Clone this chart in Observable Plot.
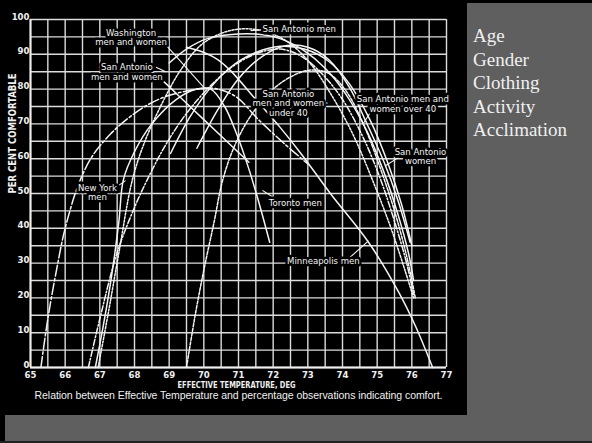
<!DOCTYPE html>
<html><head><meta charset="utf-8">
<script src="https://cdn.jsdelivr.net/npm/d3@7"></script>
<script src="https://cdn.jsdelivr.net/npm/@observablehq/plot@0.6"></script>
<style>
html,body{margin:0;padding:0}
body{background:#5f5f5f;width:592px;height:443px;overflow:hidden;position:relative}
#panel{position:absolute;left:0;top:0;width:467px;height:415px;background:#000}
#topband{position:absolute;left:0;top:0;width:592px;height:3px;background:#000}
#leftband{position:absolute;left:0;top:0;width:5px;height:443px;background:#000}
#bottomband{position:absolute;left:0;top:441px;width:592px;height:2px;background:#222}
#chart{position:absolute;left:0;top:0}
#side{position:absolute;left:473px;top:24px;color:#f0f0f0;font-family:"Liberation Serif","DejaVu Serif",serif;font-size:19px;line-height:23.5px}
</style></head>
<body>
<div id="panel"></div><div id="topband"></div><div id="leftband"></div><div id="bottomband"></div>
<div id="chart"></div>
<div id="side"></div>
<script>
// ---- data (effective temperature, per cent comfortable) ----
const xTicks = [65,66,67,68,69,70,71,72,73,74,75,76,77];
const yTicks = [0,10,20,30,40,50,60,70,80,90,100];
const sideItems = ["Age","Gender","Clothing","Activity","Acclimation"];

const longDashCurve = [[65.3,0],[65.5,14],[65.75,28],[66,40],[66.4,53],[66.8,61],[67.3,67],[67.8,71.5],[68.3,75],[68.8,77.5],[69.3,79],[69.8,80],[70.3,80.2],[70.9,78],[71.6,71],[72.3,64.5],[73,58.5]];
const torontoMen = [[66.87,0],[67.1,12],[67.35,27],[67.55,42],[67.68,54],[68,62],[68.5,70],[69.2,77],[69.8,80],[70.2,80],[70.6,75],[70.95,67],[71.3,57],[71.6,47],[71.9,36]];
const sanAntonioMen = [[66.95,0],[67.25,16],[67.55,33],[67.94,54],[68.3,65],[68.8,76],[69.3,85],[69.9,92.5],[70.5,96],[71.1,97.3],[71.8,96.5],[72.5,93],[73.1,87],[73.7,78],[74.3,67],[74.9,53],[75.4,40],[75.8,28],[76.05,20]];
const sanAntonioMenWomen = [[66.67,0],[67,14],[67.5,33],[68,46],[68.37,54],[68.9,64],[69.5,73],[70.2,81],[70.9,87],[71.6,90.5],[72.2,91.5],[72.8,89.5],[73.4,84.5],[74,77],[74.6,66],[75.1,54],[75.5,42],[75.85,30],[76.05,21]];
const washington = [[69,87.5],[69.5,91.5],[70.1,94.5],[70.8,95.7],[71.5,95.8],[72.2,94.5],[72.9,91],[73.5,86],[74.1,78.5],[74.7,68],[75.2,56],[75.6,44],[75.9,33],[76.05,25]];
const sanAntonioWomen = [[69.04,61.5],[69.6,72],[70.2,80.5],[70.8,86.5],[71.5,90.5],[72.2,92.3],[72.9,91.5],[73.6,88],[74.2,81.5],[74.8,71],[75.3,59],[75.7,47],[76,35]];
const over40 = [[69.8,63],[70.4,74],[71,83],[71.7,89.5],[72.4,92.5],[73,92],[73.6,88.5],[74.2,80.5],[74.66,71],[75.2,59],[75.6,48],[75.95,36]];
const under40 = [[69.5,0],[69.75,15],[70,28],[70.3,42],[70.54,53.7],[70.9,64],[71.4,73],[72,80],[72.6,84],[73.1,85.5],[73.6,84.5],[74.1,79.5],[74.6,70],[75.1,57],[75.5,45],[75.85,32],[76.1,20]];
const minneapolisMen = [[69.5,92],[70,90.5],[70.4,88.5],[70.77,85.3],[71.5,77],[72.2,69],[72.8,61.5],[73.65,50],[74.75,36],[75.6,22],[76.1,12],[76.6,0]];
const descendingArm = [[68.45,85.5],[68.75,83],[69.6,75],[70.5,66.5],[71.3,59]];

const labels = [
  {x:67.9, y:94.8, text:"Washington\nmen and women"},
  {x:67.78, y:84.9, text:"San Antonio\nmen and women"},
  {x:72.75, y:97.4, text:"San Antonio men"},
  {x:72.44, y:75.9, text:"San Antonio\nmen and women\nunder 40"},
  {x:75.74, y:75.7, text:"San Antonio men and\nwomen over 40"},
  {x:76.25, y:60.6, text:"San Antonio\nwomen"},
  {x:66.93, y:50.3, text:"New York\nmen"},
  {x:72.64, y:47.4, text:"Toronto men"},
  {x:73.45, y:30.7, text:"Minneapolis men"}
];
const leaders = [
  {x1:68.84, y1:93.4, x2:70.0, y2:80.5},
  {x1:68.62, y1:86.3, x2:68.9, y2:85.0},
  {x1:71.85, y1:97.2, x2:71.35, y2:96.8},
  {x1:73.35, y1:75.9, x2:73.57, y2:76.0},
  {x1:74.85, y1:74.0, x2:74.6, y2:70.1},
  {x1:75.61, y1:60.3, x2:75.24, y2:58.0},
  {x1:67.45, y1:51.7, x2:67.74, y2:53.7},
  {x1:72.0, y1:48.9, x2:71.69, y2:50.9},
  {x1:74.2, y1:31.5, x2:74.75, y2:36.4}
];
const xGrid = d3.range(65, 77.001, 0.5);
const yGrid = d3.range(0, 100.001, 5);

const caption = "Relation between Effective Temperature and percentage observations indicating comfort.";
const xLabel = "EFFECTIVE TEMPERATURE, DEG";
const yLabel = "PER CENT COMFORTABLE";

// ---- chart ----
const narrow = "'Liberation Sans Narrow','DejaVu Sans Condensed',sans-serif";
const pt = d => ({x: d[0], y: d[1]});
const curve = (arr, dash) => Plot.line(arr.map(pt), {x:"x", y:"y", stroke:"#f4f4f4", strokeWidth:1.5, strokeDasharray:dash, curve:"catmull-rom"});

const chart = Plot.plot({
  width: 467, height: 415,
  marginLeft: 30, marginRight: 21, marginTop: 19, marginBottom: 48,
  style: {background:"transparent", color:"white", fontFamily: narrow},
  x: {domain:[65,77]},
  y: {domain:[0,100]},
  marks: [
    Plot.ruleX(xGrid, {stroke:"#dcdcdc", strokeWidth:1.4}),
    Plot.ruleY(yGrid, {stroke:"#dcdcdc", strokeWidth:1.4}),
    Plot.ruleX([65], {stroke:"#eee", strokeWidth:2}),
    Plot.ruleY([0], {stroke:"#eee", strokeWidth:2}),
    curve(longDashCurve, "11,2.5,2.5,2.5"),
    curve(torontoMen, null),
    curve(sanAntonioMen, "2,1.6"),
    curve(sanAntonioMenWomen, "6,2,1.5,2"),
    curve(washington, null),
    curve(sanAntonioWomen, null),
    curve(over40, null),
    curve(under40, "3,1.6"),
    curve(minneapolisMen, null),
    curve(descendingArm, null),
    Plot.link(leaders, {x1:"x1", y1:"y1", x2:"x2", y2:"y2", stroke:"#f4f4f4", strokeWidth:1.1}),
    Plot.text(labels, {x:"x", y:"y", text:"text", fill:"#f4f4f4", stroke:"black", strokeWidth:5, fontSize:9.5, lineHeight:1.0, fontFamily:narrow}),
    Plot.axisX(xTicks, {tickSize:0, tickPadding:4, fontSize:9.5, fontWeight:"bold", fill:"#f0f0f0", label:null}),
    Plot.axisY(yTicks, {tickSize:0, tickPadding:1, dy:-3, fontSize:9.5, fontWeight:"bold", fill:"#f0f0f0", label:null}),
    Plot.text([xLabel], {frameAnchor:"bottom", dy:20.5, dx:-2, text:d=>d, fill:"#f0f0f0", fontSize:9.5, fontWeight:"bold", fontFamily:narrow}),
    Plot.text([yLabel], {frameAnchor:"left", dx:-18, rotate:-90, text:d=>d, fill:"#f0f0f0", fontSize:10, fontWeight:"bold", fontFamily:narrow}),
    Plot.text([caption], {frameAnchor:"bottom", dy:31, text:d=>d, fill:"#f0f0f0", fontSize:10.5, fontFamily:"'Liberation Sans',sans-serif"})
  ]
});
chart.querySelectorAll("text").forEach(t => {
  const s = t.textContent;
  if (s === caption) { t.setAttribute("textLength", 408); t.setAttribute("lengthAdjust", "spacing"); }
  if (s === xLabel) { t.setAttribute("textLength", 118); t.setAttribute("lengthAdjust", "spacingAndGlyphs"); }
  if (s === yLabel) { t.setAttribute("textLength", 120); t.setAttribute("lengthAdjust", "spacingAndGlyphs"); }
});
document.getElementById("chart").appendChild(chart);
document.getElementById("side").innerHTML = sideItems.map(s => `<div>${s}</div>`).join("");
</script>
</body></html>
